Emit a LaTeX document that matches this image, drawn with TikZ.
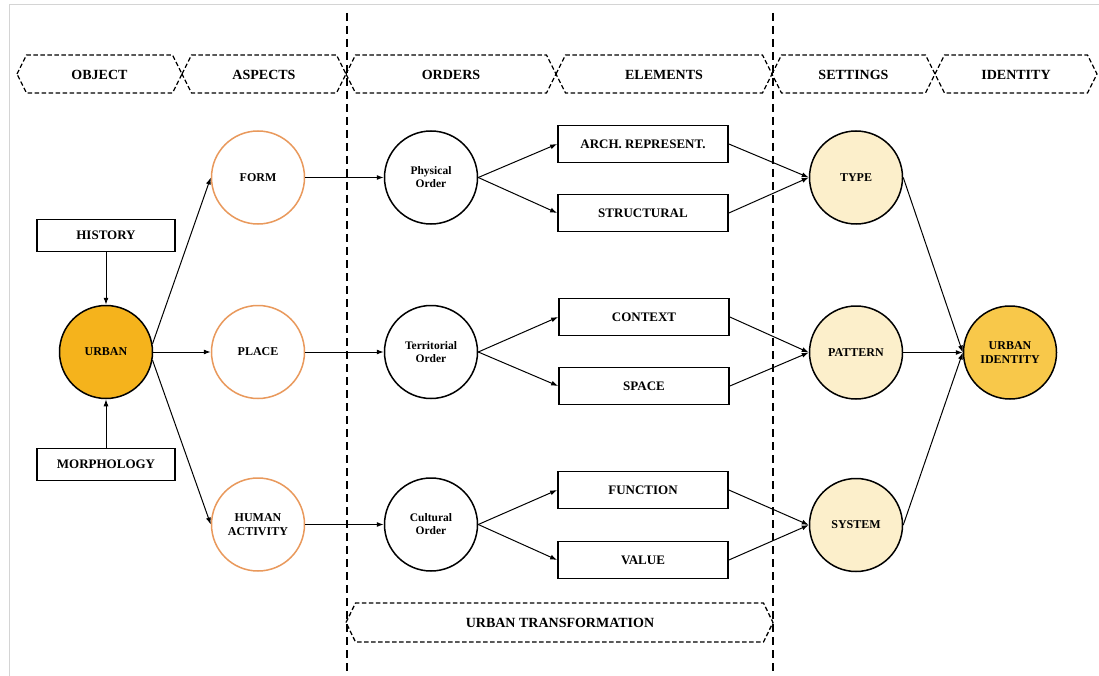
\documentclass[tikz,border=0pt]{standalone}
\usepackage{fontspec}
\setmainfont{Liberation Serif}
\usetikzlibrary{arrows.meta}
\definecolor{urbanfill}{HTML}{F5B31C}
\definecolor{uifill}{HTML}{F8C84A}
\definecolor{setfill}{HTML}{FCEFCB}
\definecolor{aspline}{HTML}{E9995C}
\definecolor{frameline}{HTML}{D4D4D4}
\begin{document}
\begin{tikzpicture}[x=1pt,y=-1pt,
  hdr/.style={draw=black, line width=1.3pt, dash pattern=on 4.5pt off 2.5pt},
  hdrtext/.style={font=\fontsize{14}{16}\selectfont\bfseries, inner sep=0pt},
  divider/.style={draw=black, line width=1.5pt, dash pattern=on 8pt off 5pt},
  boxnode/.style={draw, line width=1.7pt, minimum width=170pt, minimum height=37pt, font=\fontsize{13}{15}\selectfont\bfseries, inner sep=0pt},
  sidebox/.style={draw, line width=1.7pt, minimum width=138pt, minimum height=32pt, font=\fontsize{13}{15}\selectfont\bfseries, inner sep=0pt},
  circ/.style={circle, minimum size=93pt, inner sep=0pt, line width=1.5pt, align=center, font=\fontsize{12}{13.5}\selectfont\bfseries},
  urbanc/.style={circ, draw=black, fill=urbanfill},
  aspc/.style={circ, draw=aspline, fill=white},
  ordc/.style={circ, draw=black, fill=white, font=\fontsize{11.5}{13}\selectfont\bfseries},
  setc/.style={circ, draw=black, fill=setfill},
  uic/.style={circ, draw=black, fill=uifill},
  conn/.style={line width=1pt, -{Latex[length=7pt,width=5pt]}}
]
\useasboundingbox (0,0) rectangle (1099,676);
\fill[white] (0,0) rectangle (1099,676);
\draw[frameline, line width=1pt] (9,676) -- (9,5) -- (1099,5);

% dividers
\draw[divider] (347,13) -- (347,676);
\draw[divider] (773,13) -- (773,676);

% header chevrons
\foreach \l/\r/\t/\n in {17/182/OBJECT/obj, 182/346/ASPECTS/asp, 346/556/ORDERS/ord, 556/772/ELEMENTS/ele, 772/935/SETTINGS/set, 935/1097/IDENTITY/idn}{
  \draw[hdr] (\l,74) -- (\l+9.5,55) -- (\r-9.5,55) -- (\r,74) -- (\r-9.5,93) -- (\l+9.5,93) -- cycle;
  \node[hdrtext] (h\n) at ({(\l+\r)/2},74.5) {\t};
}

% bottom chevron
\draw[hdr] (346,622.5) -- (355.5,603) -- (763.5,603) -- (773,622.5) -- (763.5,642) -- (355.5,642) -- cycle;
\node[hdrtext] (trans) at (560,623) {URBAN TRANSFORMATION};

% object column
\node[sidebox] (history) at (106,235.5) {HISTORY};
\node[sidebox] (morph) at (106,464.5) {MORPHOLOGY};
\node[urbanc] (urban) at (106,352) {URBAN};

% aspects
\node[aspc] (form) at (258,177.5) {FORM};
\node[aspc] (place) at (258,352) {PLACE};
\node[aspc] (human) at (258,524.5) {HUMAN\\ACTIVITY};

% orders
\node[ordc] (phys) at (431,177.5) {Physical\\Order};
\node[ordc] (terr) at (431,352) {Territorial\\Order};
\node[ordc] (cult) at (431,524.5) {Cultural\\Order};

% elements
\node[boxnode] (arch) at (643,144) {ARCH. REPRESENT.};
\node[boxnode] (struct) at (643,213) {STRUCTURAL};
\node[boxnode] (context) at (644,317) {CONTEXT};
\node[boxnode] (space) at (644,386) {SPACE};
\node[boxnode] (function) at (643,490) {FUNCTION};
\node[boxnode] (value) at (643,560) {VALUE};

% settings
\node[setc] (type) at (856,177.5) {TYPE};
\node[setc] (pattern) at (856,352.5) {PATTERN};
\node[setc] (system) at (856,525) {SYSTEM};

% identity
\node[uic] (ui) at (1010,352.5) {URBAN\\IDENTITY};

% connectors
\draw[conn] (history.south) -- (urban.north);
\draw[conn] (morph.north) -- (urban.south);
\draw[conn] (urban.10) -- (form.west);
\draw[conn] (urban.east) -- (place.west);
\draw[conn] (urban.-10) -- (human.west);

\draw[conn] (form.east) -- (phys.west);
\draw[conn] (place.east) -- (terr.west);
\draw[conn] (human.east) -- (cult.west);

\draw[conn] (phys.east) -- (arch.west);
\draw[conn] (phys.east) -- (struct.west);
\draw[conn] (terr.east) -- (context.west);
\draw[conn] (terr.east) -- (space.west);
\draw[conn] (cult.east) -- (function.west);
\draw[conn] (cult.east) -- (value.west);

\draw[conn] (arch.east) -- (type.west);
\draw[conn] (struct.east) -- (type.west);
\draw[conn] (context.east) -- (pattern.west);
\draw[conn] (space.east) -- (pattern.west);
\draw[conn] (function.east) -- (system.west);
\draw[conn] (value.east) -- (system.west);

\draw[conn] (type.east) -- (ui.west);
\draw[conn] (pattern.east) -- (ui.west);
\draw[conn] (system.east) -- (ui.west);
\end{tikzpicture}
\end{document}
